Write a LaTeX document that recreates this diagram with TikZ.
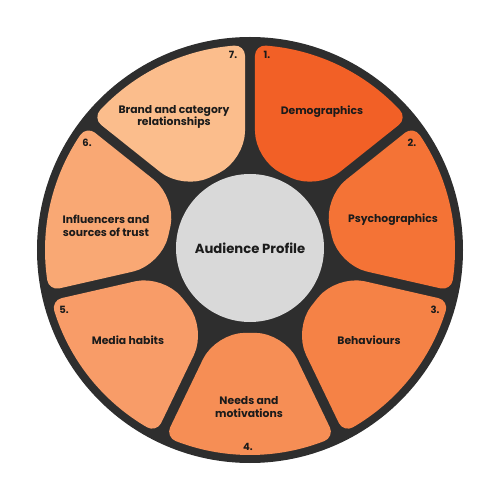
\documentclass[tikz,border=0pt]{standalone}
\usepackage{fontspec}
\setmainfont{Poppins}
\usetikzlibrary{calc}

\definecolor{ring}{HTML}{2E2E2E}
\definecolor{hub}{HTML}{D9D9D9}
\definecolor{ink}{HTML}{1B1B1B}
\definecolor{segA}{HTML}{F26026}
\definecolor{segB}{HTML}{F47336}
\definecolor{segC}{HTML}{F58246}
\definecolor{segD}{HTML}{F68E55}
\definecolor{segE}{HTML}{F89C68}
\definecolor{segF}{HTML}{F9A874}
\definecolor{segG}{HTML}{FBBD8C}

\begin{document}
\begin{tikzpicture}[x=1pt,y=1pt,
    segtext/.style={font=\bfseries\fontsize{10.8}{12.5}\selectfont, text=ink, align=center},
    segnum/.style={font=\bfseries\fontsize{10}{11}\selectfont, text=ink}]

\useasboundingbox (-250,-250) rectangle (250,250);

\fill[ring] (0,0) circle (213);

% petals: inset shape, then a wide round stroke rounds the corners
\foreach \i/\col in {1/segA,2/segB,3/segC,4/segD,5/segE,6/segF,7/segG} {
    \pgfmathsetmacro\ta{90-(\i-1)*360/7}
    \pgfmathsetmacro\tb{\ta-360/7}
    \pgfmathsetmacro\ao{asin(15/195)}
    \pgfmathsetmacro\ai{asin(15/97)}
    \pgfmathsetmacro\ap{asin(15/120)}
    \coordinate (oa) at (\ta-\ao:195);
    \coordinate (ob) at (\tb+\ao:195);
    \coordinate (ia) at (\ta-\ai:97);
    \coordinate (ib) at (\tb+\ai:97);
    \coordinate (pa) at (\ta-\ap:120);
    \coordinate (pb) at (\tb+\ap:120);
    \coordinate (ca) at ($(ia)!23pt!(ib)$);
    \coordinate (cb) at ($(ib)!23pt!(ia)$);
    \filldraw[\col, line width=20pt, line join=round]
        (pa) -- (oa) arc[start angle=\ta-\ao, end angle=\tb+\ao, radius=195]
        -- (pb) .. controls ($(pb)!0.55!(ib)$) and ($(cb)!0.55!(ib)$) .. (cb)
        -- (ca) .. controls ($(ca)!0.55!(ia)$) and ($(pa)!0.55!(ia)$) .. (pa)
        -- cycle;
}

\node (hub) [circle,
    fill=hub,
    minimum size=148pt,
    inner sep=0pt,
    font=\bfseries\fontsize{13.2}{16}\selectfont,
    text=ink
] at (0,2) {Audience Profile};

\node (demographics) [segtext] at (72,138) {Demographics};
\node (psychographics) [segtext] at (143,30) {Psychographics};
\node (behaviours) [segtext] at (119,-90) {Behaviours};
\node (needs) [segtext] at (-1,-157) {Needs and\\motivations};
\node (media) [segtext] at (-122,-90) {Media habits};
\node (influencers) [segtext] at (-144,24) {Influencers and\\sources of trust};
\node (brand) [segtext] at (-76,133) {Brand and category\\relationships};

\node (num1) [segnum] at (17,195) {1.};
\node (num2) [segnum] at (162,107) {2.};
\node (num3) [segnum] at (185,-60) {3.};
\node (num4) [segnum] at (-2,-197) {4.};
\node (num5) [segnum] at (-186,-60) {5.};
\node (num6) [segnum] at (-163,107) {6.};
\node (num7) [segnum] at (-17,195) {7.};

\end{tikzpicture}
\end{document}
